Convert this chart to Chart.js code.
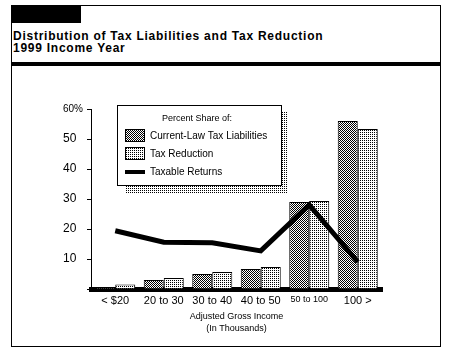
<!DOCTYPE html>
<html>
<head>
<meta charset="utf-8">
<script src="https://cdn.jsdelivr.net/npm/chart.js@4.4.1/dist/chart.umd.min.js"></script>
<style>
  html, body { margin: 0; padding: 0; background: #fff; }
  #wrap { position: relative; width: 451px; height: 350px; overflow: hidden; }
  #frame { position: absolute; left: 11px; top: 5px; width: 430px; height: 342px; border: 1px solid #000; box-sizing: border-box; }
  #tab { position: absolute; left: 11px; top: 5px; width: 70px; height: 18px; background: #000; }
  #rule { position: absolute; left: 11px; top: 62px; width: 430px; height: 4px; background: #000; }
  #title { position: absolute; left: 13px; top: 30px; font: bold 12px "Liberation Sans", Arial, sans-serif; line-height: 12px; letter-spacing: 0.75px; color: #000; white-space: nowrap; }
  #chart { position: absolute; left: 0; top: 0; }
</style>
</head>
<body>
<div id="wrap">
  <div id="frame"></div>
  <div id="tab"></div>
  <div id="rule"></div>
  <div id="title">Distribution of Tax Liabilities and Tax Reduction<br>1999 Income Year</div>
  <canvas id="chart" width="451" height="350"></canvas>
</div>
<script>
// income brackets (thousands)
const categories = ["< $20", "20 to 30", "30 to 40", "40 to 50", "50 to 100", "100 >"];
// percent shares
const liabilities = [0.5, 3.0, 5.0, 6.7, 29.0, 56.0];
const reduction = [1.5, 3.7, 5.7, 7.3, 29.3, 53.3];
const taxableReturns = [19.4, 15.6, 15.4, 12.7, 28.0, 9.0];
const yTicks = [0, 10, 20, 30, 40, 50, 60];

const FONT = "'Liberation Sans', Arial, sans-serif";

// 1-bit style fills like the old print graphic
function makePattern(cells) {
  const c = document.createElement("canvas");
  c.width = 2; c.height = 2;
  const g = c.getContext("2d");
  g.fillStyle = "#fff";
  g.fillRect(0, 0, 2, 2);
  g.fillStyle = "#000";
  cells.forEach(p => g.fillRect(p[0], p[1], 1, 1));
  return g.createPattern(c, "repeat");
}
const checker = makePattern([[0, 0], [1, 1]]);
const dots = makePattern([[0, 0]]);

// boxed legend with a dotted drop shadow
const boxLegend = {
  id: "boxLegend",
  afterDatasetsDraw(chart) {
    const ctx = chart.ctx;
    const ds = chart.data.datasets;
    ctx.save();
    ctx.fillStyle = dots;
    ctx.fillRect(126, 112, 162, 81);
    ctx.fillStyle = "#fff";
    ctx.fillRect(117, 105, 164, 80);
    ctx.strokeStyle = "#000";
    ctx.lineWidth = 1;
    ctx.strokeRect(117.5, 105.5, 164, 80);

    ctx.fillStyle = "#000";
    ctx.textBaseline = "middle";
    ctx.font = "9px " + FONT;
    ctx.textAlign = "center";
    ctx.fillText("Percent Share of:", 197, 119);

    ctx.textAlign = "left";
    ctx.font = "10px " + FONT;
    const rows = [136, 154, 172];
    ds.forEach((d, i) => {
      const y = rows[i];
      if (d.type === "line") {
        ctx.fillStyle = "#000";
        ctx.fillRect(125, y - 2, 20, 4);
      } else {
        ctx.fillStyle = d.backgroundColor;
        ctx.fillRect(125, y - 7, 20, 13);
        ctx.strokeStyle = "#000";
        ctx.strokeRect(125.5, y - 6.5, 19, 12);
      }
      ctx.fillStyle = "#000";
      ctx.fillText(d.label, 150, y);
    });
    ctx.restore();
  }
};

new Chart(document.getElementById("chart"), {
  data: {
    labels: categories,
    datasets: [
      {
        type: "bar",
        label: "Current-Law Tax Liabilities",
        data: liabilities,
        backgroundColor: checker,
        borderColor: "#000",
        borderWidth: 1,
        borderSkipped: "bottom",
        categoryPercentage: 0.825,
        barPercentage: 1,
        order: 1
      },
      {
        type: "bar",
        label: "Tax Reduction",
        data: reduction,
        backgroundColor: dots,
        borderColor: "#000",
        borderWidth: 1,
        borderSkipped: "bottom",
        categoryPercentage: 0.825,
        barPercentage: 1,
        order: 1
      },
      {
        type: "line",
        label: "Taxable Returns",
        data: taxableReturns,
        borderColor: "#000",
        borderWidth: 5,
        pointRadius: 0,
        tension: 0,
        fill: false,
        order: 0
      }
    ]
  },
  options: {
    responsive: false,
    animation: false,
    events: [],
    layout: { padding: { left: 63, top: 109, right: 69, bottom: 11 } },
    plugins: {
      legend: { display: false },
      tooltip: { enabled: false }
    },
    scales: {
      x: {
        grid: { display: false, drawTicks: false },
        border: { display: true, color: "#000", width: 5 },
        ticks: {
          color: "#000",
          padding: 5,
          maxRotation: 0,
          autoSkip: false,
          font: c => ({ family: FONT, size: c.index === 4 ? 9 : 11 })
        },
        title: {
          display: true,
          text: ["Adjusted Gross Income", "(In Thousands)"],
          color: "#000",
          font: { family: FONT, size: 9, lineHeight: 1.333 },
          padding: { top: 0, bottom: 4 }
        },
        afterFit: s => { s.height = 50; }
      },
      y: {
        min: 0,
        max: 60,
        afterBuildTicks: s => { s.ticks = yTicks.map(v => ({ value: v })); },
        grid: { display: true, drawOnChartArea: false, drawTicks: true, tickLength: 4, color: "#000" },
        border: { display: true, color: "#000", width: 1 },
        ticks: {
          color: "#000",
          padding: 3,
          crossAlign: "far",
          font: c => ({ family: FONT, size: c.tick && c.tick.value === 60 ? 10 : 12 }),
          callback: v => v === 0 ? "" : (v === 60 ? v + "%" : v)
        },
        afterFit: s => { s.width = 28; }
      }
    }
  },
  plugins: [boxLegend]
});
</script>
</body>
</html>
